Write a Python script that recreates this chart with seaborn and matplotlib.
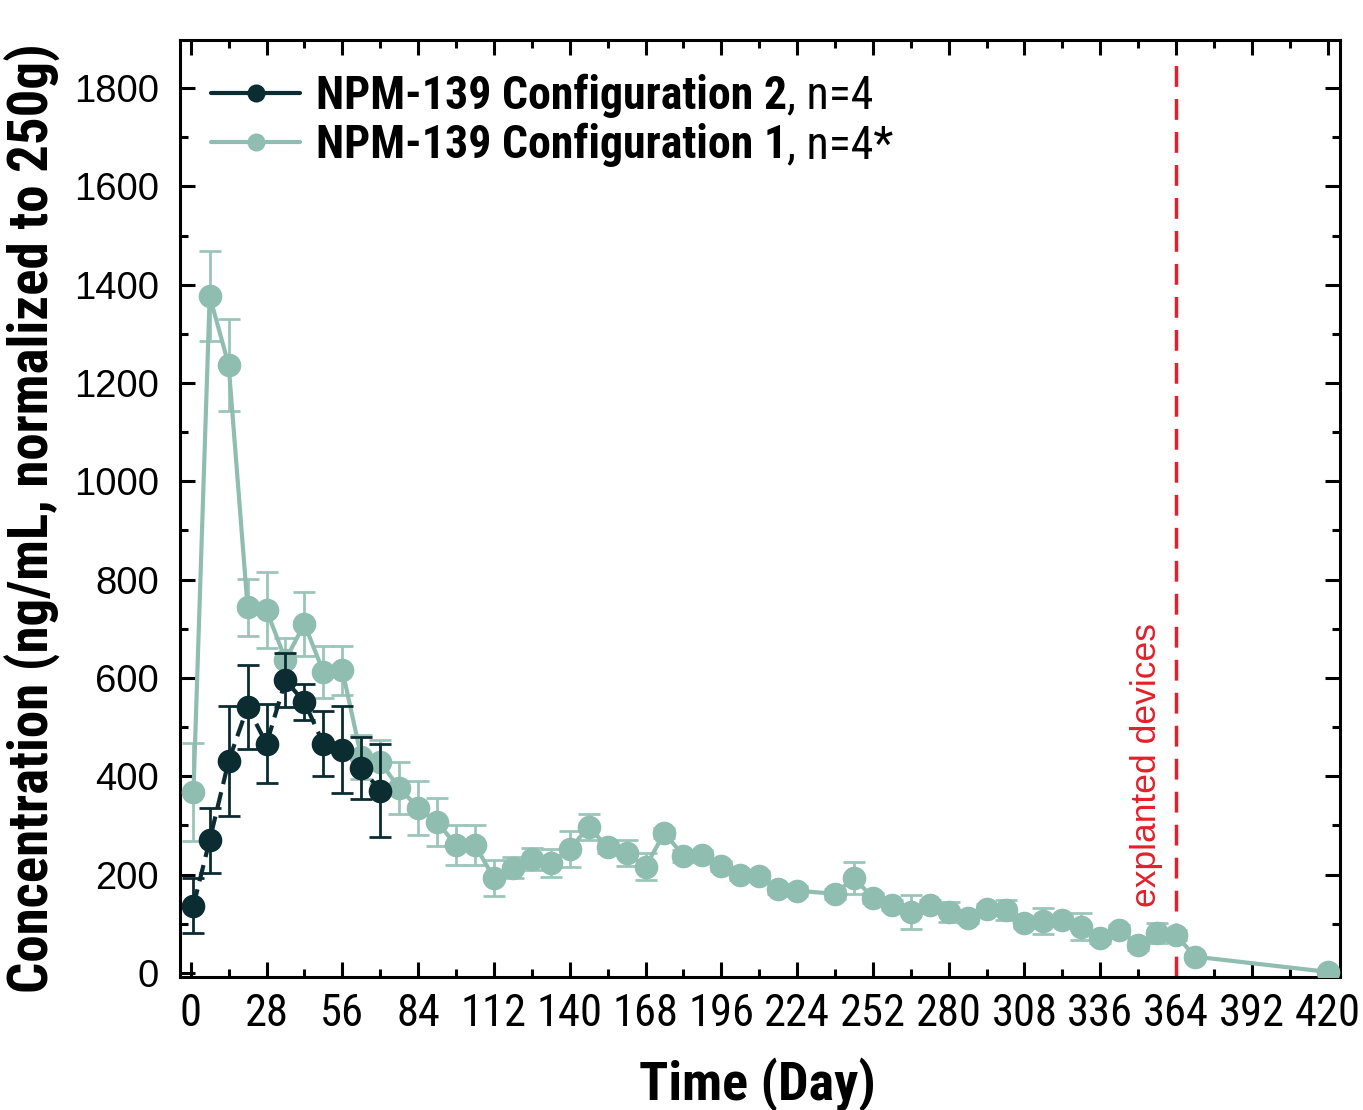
import numpy as np
import pandas as pd
import seaborn as sns
import matplotlib
matplotlib.use("Agg")
import matplotlib.pyplot as plt
from matplotlib.lines import Line2D
from matplotlib.ticker import MultipleLocator

# ---------------- data ----------------
days_cfg2 = [1, 7, 14, 21, 28, 35, 42, 49, 56, 63, 70]
conc_cfg2 = [137, 270, 431, 541, 466, 595, 551, 466, 454, 417, 371]
err_cfg2 = [56, 66, 112, 85, 80, 55, 37, 66, 88, 63, 94]

days_cfg1 = [1, 7, 14, 21, 28, 35, 42, 49, 56, 63, 70, 77, 84, 91, 98, 105,
             112, 119, 126, 133, 140, 147, 154, 161, 168, 175, 182, 189, 196,
             203, 210, 217, 224, 238, 245, 252, 259, 266, 273, 280, 287, 294,
             301, 308, 315, 322, 329, 336, 343, 350, 357, 364, 371, 420]
conc_cfg1 = [368, 1377, 1237, 744, 738, 637, 710, 612, 616, 439, 429, 376,
             336, 307, 260, 260, 193, 214, 232, 224, 252, 297, 256, 244, 216,
             285, 238, 240, 218, 199, 197, 171, 167, 161, 193, 153, 138, 124,
             138, 124, 112, 130, 128, 102, 106, 108, 94, 71, 87, 57, 81, 77,
             33, 2]
err_cfg1 = [100, 92, 94, 58, 78, 45, 65, 52, 50, 45, 45, 53, 55, 49, 40, 40,
            37, 22, 22, 28, 37, 27, 12, 26, 27, 10, 12, 10, 10, 10, 10, 10,
            10, 10, 33, 10, 10, 35, 10, 20, 10, 10, 20, 10, 26, 10, 28, 10,
            10, 10, 20, 10, 5, 5]

label_cfg2 = "NPM-139 Configuration 2"
suffix_cfg2 = ", n=4"
label_cfg1 = "NPM-139 Configuration 1"
suffix_cfg1 = ", n=4*"

explant_day = 364
explant_text = "explanted devices"
x_ticks = list(range(0, 421, 28))
y_ticks = list(range(0, 1801, 200))
x_label = "Time (Day)"
y_label = "Concentration (ng/mL, normalized to 250g)"

# ---------------- style ----------------
sns.set_theme(style="white")
narrow = ["Roboto Condensed", "Liberation Sans", "DejaVu Sans"]
regular = ["Liberation Sans", "DejaVu Sans"]
plt.rcParams["font.family"] = regular
for k in ("text.color", "axes.labelcolor", "xtick.color", "ytick.color",
          "axes.edgecolor"):
    plt.rcParams[k] = "black"

dark = "#0b2c31"
light = "#8fbdb0"
light_err = "#9cc5b9"
red = "#e3202b"

fig = plt.figure(figsize=(13.63, 11.10), dpi=100)
ax = fig.add_axes([0.132, 0.12, 0.851, 0.844])

df1 = pd.DataFrame({"day": days_cfg1, "conc": conc_cfg1})
df2 = pd.DataFrame({"day": days_cfg2, "conc": conc_cfg2})

ax.errorbar(days_cfg1, conc_cfg1, yerr=err_cfg1, fmt="none", ecolor=light_err,
            elinewidth=2, capsize=8, capthick=2, zorder=2)
sns.lineplot(data=df1, x="day", y="conc", ax=ax, color=light, linewidth=3,
             marker="o", markersize=17, markeredgewidth=0, estimator=None,
             sort=False, zorder=3, legend=False)
ax.errorbar(days_cfg2, conc_cfg2, yerr=err_cfg2, fmt="none", ecolor=dark,
            elinewidth=2, capsize=8, capthick=2, zorder=4)
sns.lineplot(data=df2, x="day", y="conc", ax=ax, color=dark, linewidth=3,
             linestyle=(0, (4, 2)), marker="o", markersize=17,
             markeredgewidth=0, estimator=None, sort=False, zorder=5,
             legend=False)

# explant line
ax.axvline(explant_day, ymin=0.0, ymax=0.985, color=red, linewidth=2.5,
           linestyle=(0, (6, 3.5)), zorder=1)
ax.text(explant_day - 11, 423, explant_text, rotation=90, color=red,
        fontsize=25.5, family=regular, ha="center", va="center")

# axes
ax.set_xlim(-4, 424.5)
ax.set_ylim(-8, 1898)
ax.set_xticks(x_ticks)
ax.set_yticks(y_ticks)
ax.xaxis.set_minor_locator(MultipleLocator(14))
ax.yaxis.set_minor_locator(MultipleLocator(100))
ax.tick_params(which="both", direction="in", top=True, right=True,
               bottom=True, left=True, width=2.2, colors="black")
ax.tick_params(which="major", length=11)
ax.tick_params(which="minor", length=6)
ax.tick_params(axis="x", which="major", pad=12)
ax.tick_params(axis="y", which="major", pad=15)
for lab in ax.get_xticklabels():
    lab.set_family(narrow)
    lab.set_fontsize(32)
    lab.set_fontweight("normal")
for lab in ax.get_yticklabels():
    lab.set_family(regular)
    lab.set_fontsize(27.5)
for s in ax.spines.values():
    s.set_linewidth(2.2)
    s.set_color("black")
    s.set_visible(True)

ax.set_xlabel(x_label, fontsize=39, fontweight="bold", family=narrow)
ax.set_ylabel(y_label, fontsize=39.5, fontweight="bold", family=narrow)
ax.xaxis.set_label_coords(0.498, -0.086)
ax.yaxis.set_label_coords(-0.103, 0.49)

# legend
handles = [
    Line2D([], [], color=dark, linewidth=3, marker="o", markersize=13,
           markeredgewidth=0),
    Line2D([], [], color=light, linewidth=3, marker="o", markersize=13,
           markeredgewidth=0),
]
leg = ax.legend(handles, [label_cfg2, label_cfg1], loc="upper left",
                bbox_to_anchor=(0.011, 0.984), frameon=False,
                handlelength=1.95, handletextpad=0.33, labelspacing=0.12,
                borderaxespad=0.0,
                prop={"family": narrow, "weight": "bold", "size": 33})

fig.canvas.draw()
renderer = fig.canvas.get_renderer()
for t, suf in zip(leg.get_texts(), [suffix_cfg2, suffix_cfg1]):
    bb = t.get_window_extent(renderer)
    fig.text(bb.x1, bb.y0, suf, transform=None, ha="left", va="bottom",
             fontsize=33, family=narrow, fontweight="normal", color="black")

fig.savefig("out.png", dpi=100, facecolor="white")
